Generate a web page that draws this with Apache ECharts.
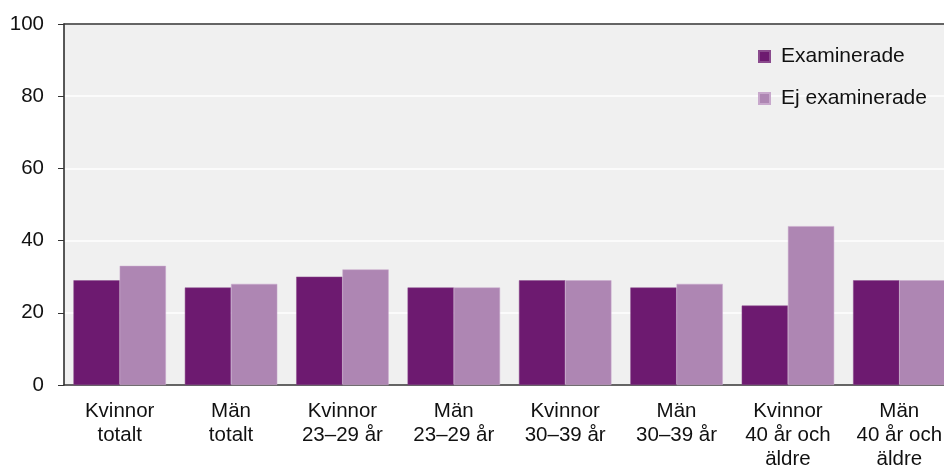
<!DOCTYPE html>
<html>
<head>
<meta charset="utf-8">
<script src="https://cdn.jsdelivr.net/npm/echarts@6/dist/echarts.min.js"></script>
<style>
html,body{margin:0;padding:0;background:#fff;}
#chart{width:944px;height:465px;}
</style>
</head>
<body>
<div id="chart"></div>
<script>
const categories = [
  "Kvinnor\ntotalt", "Män\ntotalt", "Kvinnor\n23–29 år", "Män\n23–29 år",
  "Kvinnor\n30–39 år", "Män\n30–39 år", "Kvinnor\n40 år och\näldre", "Män\n40 år och\näldre"
];
const examinerade = [29, 27, 30, 27, 29, 27, 22, 29];
const ejExaminerade = [33, 28, 32, 27, 29, 28, 44, 29];
const yTicks = { min: 0, max: 100, interval: 20 };

const chart = echarts.init(document.getElementById('chart'), null, { renderer: 'canvas' });
const font = 'Liberation Sans, Arial, sans-serif';
chart.setOption({
  animation: false,
  textStyle: { fontFamily: font },
  grid: {
    left: 64, top: 24, height: 361, width: 891,
    outerBoundsMode: 'none', containLabel: false,
    show: true, backgroundColor: '#f0f0f0', borderWidth: 0
  },
  legend: {
    orient: 'vertical', left: 753, top: 41,
    itemWidth: 11, itemHeight: 11, itemGap: 21,
    icon: 'rect',
    textStyle: { fontSize: 21, color: '#111', fontFamily: font, lineHeight: 20, padding: [0, 0, 0, 6] },
    data: ['Examinerade', 'Ej examinerade']
  },
  xAxis: [{
    type: 'category',
    data: categories,
    axisLine: { show: true, lineStyle: { color: '#333', width: 1.5 } },
    axisTick: { show: false },
    axisLabel: { fontSize: 20.5, color: '#111', lineHeight: 24, margin: 14, fontFamily: font, interval: 0 }
  }, {
    type: 'category',
    position: 'top',
    data: categories,
    axisLine: { show: true, lineStyle: { color: '#333', width: 1.5 } },
    axisTick: { show: false },
    axisLabel: { show: false }
  }],
  yAxis: {
    type: 'value',
    min: yTicks.min, max: yTicks.max, interval: yTicks.interval,
    axisLine: { show: true, lineStyle: { color: '#222', width: 1.5 } },
    axisTick: { show: true, length: 6, lineStyle: { color: '#333' } },
    axisLabel: { fontSize: 20.5, color: '#111', margin: 20, fontFamily: font },
    splitLine: { show: true, lineStyle: { color: '#ffffff', width: 1.5 } }
  },
  series: [
    {
      name: 'Examinerade', type: 'bar', data: examinerade,
      barGap: '0%', barCategoryGap: '17%',
      itemStyle: { color: '#6d1a70', borderColor: '#8a4a8d', borderWidth: 0.5 }
    },
    {
      name: 'Ej examinerade', type: 'bar', data: ejExaminerade,
      barGap: '0%', barCategoryGap: '17%',
      itemStyle: { color: '#ae86b3', borderColor: '#c8a8cc', borderWidth: 0.5 }
    }
  ]
});
</script>
</body>
</html>
